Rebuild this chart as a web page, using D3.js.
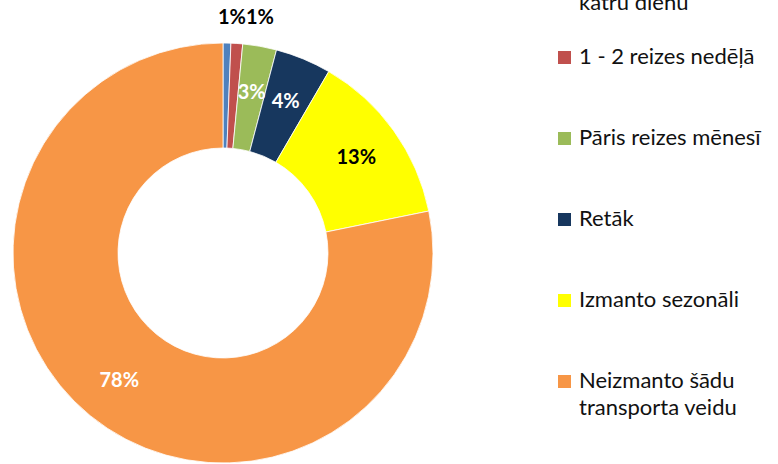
<!DOCTYPE html>
<html>
<head>
<meta charset="utf-8">
<script src="https://cdn.jsdelivr.net/npm/d3@7"></script>
<style>
  body { margin: 0; background: #fff; }
  svg { display: block; }
</style>
</head>
<body>
<svg id="chart"></svg>
<script>
// dati
const categories = ['Gandrīz katru dienu', '1 - 2 reizes nedēļā', 'Pāris reizes mēnesī', 'Retāk', 'Izmanto sezonāli', 'Neizmanto šādu transporta veidu'];
const legendLines = [['Gandrīz', 'katru dienu'], ['1 - 2 reizes nedēļā'], ['Pāris reizes mēnesī'], ['Retāk'], ['Izmanto sezonāli'], ['Neizmanto šādu', 'transporta veidu']];
const values = [0.6, 0.9, 2.6, 4.3, 13.4, 78.2];
const labels = ['1%', '1%', '3%', '4%', '13%', '78%'];
const colors = ['#4F81BD', '#C0504D', '#9BBB59', '#17375E', '#FFFF00', '#F79646'];
const labelColors = ['#000', '#000', '#fff', '#fff', '#000', '#fff'];

const width = 778, height = 464;
const cx = 223, cy = 253;
const outerR = 210, innerR = 105;

const svg = d3.select('#chart')
  .attr('width', width)
  .attr('height', height);

const g = svg.append('g').attr('transform', `translate(${cx},${cy})`);

const pie = d3.pie().sort(null).value(d => d);
const arcs = pie(values);

const arc = d3.arc().innerRadius(innerR).outerRadius(outerR);
const labelArc = d3.arc().innerRadius(164).outerRadius(164);
const outerLabelArc = d3.arc().innerRadius(236).outerRadius(236);

// segmenti
g.selectAll('path')
  .data(arcs)
  .join('path')
  .attr('d', arc)
  .attr('fill', (d, i) => colors[i])
  .attr('stroke', '#fff')
  .attr('stroke-width', 0.8);

// etiķetes
arcs.forEach((d, i) => {
  const small = values[i] < 2;
  let x, y, anchor = 'middle';
  if (small) {
    // mazie segmenti - virs gredzena, blakus viens otram
    const boundary = arcs[0].endAngle;
    const p = outerLabelArc.centroid({ startAngle: boundary, endAngle: boundary });
    x = p[0] + 14;
    y = p[1];
    anchor = i === 0 ? 'end' : 'start';
  } else {
    [x, y] = labelArc.centroid(d);
  }
  g.append('text')
    .attr('x', x)
    .attr('y', y)
    .attr('dy', '0.35em')
    .attr('text-anchor', anchor)
    .attr('font-family', 'Lato, "Open Sans", sans-serif')
    .attr('font-weight', 'bold')
    .attr('font-size', '20px')
    .attr('fill', labelColors[i])
    .text(labels[i]);
});

// leģenda
const legendX = 558;
const legendY = d3.scalePoint()
  .domain(d3.range(categories.length))
  .range([-24, 381]);

const lineH = 27;

categories.forEach((c, i) => {
  const lines = legendLines[i];
  // pirmajam ierakstam pirmā rinda ir ārpus attēla
  const row = svg.append('g')
    .attr('transform', `translate(${legendX},${legendY(i)})`);

  row.append('rect')
    .attr('x', 0)
    .attr('y', -6)
    .attr('width', 13)
    .attr('height', 13)
    .attr('fill', colors[i]);

  const t = row.append('text')
    .attr('x', 21)
    .attr('y', 7)
    .attr('font-family', 'Lato, "Open Sans", sans-serif')
    .attr('font-size', '22px')
    .attr('fill', '#111');

  lines.forEach((ln, k) => {
    t.append('tspan')
      .attr('x', 21)
      .attr('dy', k === 0 ? 0 : lineH)
      .text(ln);
  });
});
</script>
</body>
</html>
